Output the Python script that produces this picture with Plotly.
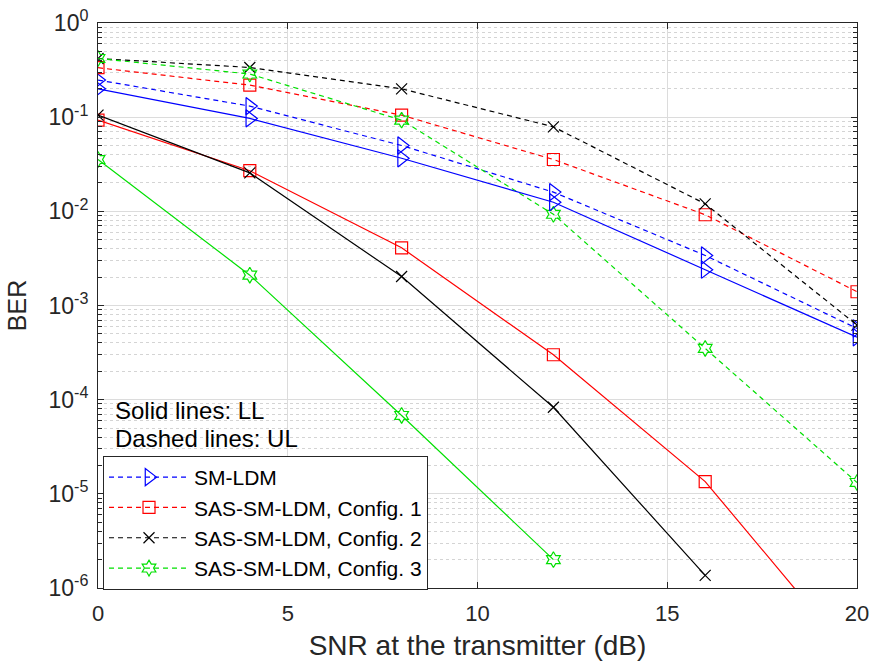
import plotly.graph_objects as go

snr = [0, 4, 8, 12, 16, 20]
sm_ldm_ll = [0.2, 0.097, 0.0366, 0.0125, 0.0024, 0.00046]
sm_ldm_ul = [0.248, 0.131, 0.050, 0.016, 0.0034, 0.00057]
cfg1_ll = [0.093, 0.027, 0.0041, 0.0003, 1.35e-5, 1.6e-7]
cfg1_ul = [0.335, 0.219, 0.105, 0.0355, 0.0092, 0.0014]
cfg2_ll = [0.105, 0.0256, 0.00203, 8.3e-5, 1.36e-6]
cfg2_ul = [0.42, 0.337, 0.20, 0.079, 0.012, 0.00062]
cfg3_ll = [0.0355, 0.0021, 6.8e-5, 2.0e-6]
cfg3_ul = [0.42, 0.287, 0.093, 0.0093, 0.00035, 1.32e-5]

names = ["SM-LDM", "SAS-SM-LDM, Config. 1", "SAS-SM-LDM, Config. 2", "SAS-SM-LDM, Config. 3"]
colors = ["#0000FF", "#FF0000", "#000000", "#00E000"]
symbols = ["triangle-right-open", "square-open", "x-thin-open", "hexagram-open"]
msizes = [15, 12, 11, 12]
ll_series = [sm_ldm_ll, cfg1_ll, cfg2_ll, cfg3_ll]
ul_series = [sm_ldm_ul, cfg1_ul, cfg2_ul, cfg3_ul]

fig = go.Figure()
for i in range(4):
    ul = ul_series[i]
    fig.add_trace(go.Scatter(
        x=snr[:len(ul)], y=ul, mode="lines+markers", name=names[i],
        line=dict(color=colors[i], width=1.2, dash="5px,4px"),
        marker=dict(symbol=symbols[i], size=msizes[i], color=colors[i],
                    line=dict(color=colors[i], width=1.2)),
        showlegend=True))
for i in range(4):
    ll = ll_series[i]
    fig.add_trace(go.Scatter(
        x=snr[:len(ll)], y=ll, mode="lines+markers", name=names[i],
        line=dict(color=colors[i], width=1.2),
        marker=dict(symbol=symbols[i], size=msizes[i], color=colors[i],
                    line=dict(color=colors[i], width=1.2)),
        showlegend=False))

exps = list(range(-6, 1))
ytickvals = [10.0 ** e for e in exps]
yticktext = ["10<sup>%d</sup>" % e for e in exps]
minor_vals = [k * 10.0 ** e for e in range(-6, 0) for k in range(2, 10)]

axcol = "#262626"
fig.update_layout(
    width=873, height=661,
    margin=dict(l=98, r=16, t=23, b=73),
    paper_bgcolor="white", plot_bgcolor="white",
    font=dict(family="Liberation Sans, Arial, sans-serif", color=axcol),
    xaxis=dict(
        range=[0, 20], tickvals=[0, 5, 10, 15, 20], automargin=False,
        showline=True, linecolor=axcol, linewidth=1, mirror="ticks",
        ticks="inside", ticklen=6, tickcolor=axcol,
        showgrid=True, gridcolor="#DCDCDC", gridwidth=1,
        zeroline=False, tickfont=dict(size=22), ticklabeloverflow="allow",
        ticklabelstandoff=6,
        title=dict(text="SNR at the transmitter (dB)", font=dict(size=28), standoff=12),
    ),
    yaxis=dict(
        type="log", range=[-6, 0], tickvals=ytickvals, ticktext=yticktext,
        automargin=False,
        showline=True, linecolor=axcol, linewidth=1, mirror="ticks",
        ticks="inside", ticklen=6, tickcolor=axcol,
        showgrid=True, gridcolor="#DCDCDC", gridwidth=1,
        zeroline=False, tickfont=dict(size=23), ticklabeloverflow="allow",
        ticklabelstandoff=4,
        minor=dict(tickvals=minor_vals, ticks="inside", ticklen=4, tickcolor=axcol,
                   showgrid=True, gridcolor="#D4D4D4", griddash="dot", gridwidth=1),
        title=dict(text="BER", font=dict(size=25), standoff=14),
    ),
    legend=dict(
        x=0.0066, y=-0.0035, xanchor="left", yanchor="bottom",
        bgcolor="white", bordercolor=axcol, borderwidth=1,
        font=dict(size=21, color="#000000"), itemwidth=80, tracegroupgap=0,
    ),
    annotations=[
        dict(text="Solid lines: LL", xref="paper", yref="paper", x=0.02, y=0.315,
             xanchor="left", yanchor="middle", showarrow=False, font=dict(size=24, color="#000000")),
        dict(text="Dashed lines: UL", xref="paper", yref="paper", x=0.02, y=0.265,
             xanchor="left", yanchor="middle", showarrow=False, font=dict(size=24, color="#000000")),
    ],
)

fig.write_html("out.html")
